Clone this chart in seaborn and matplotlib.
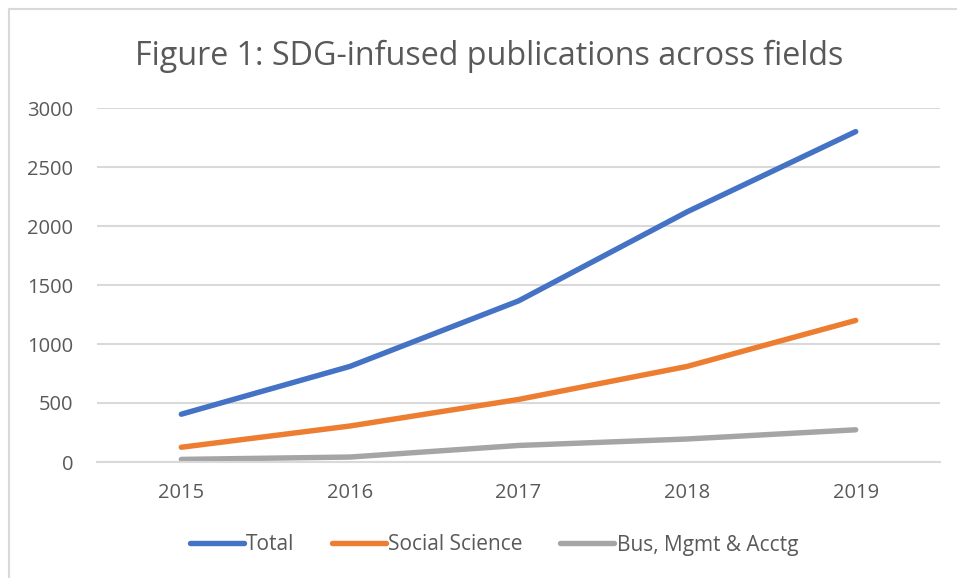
import numpy as np
import pandas as pd
import matplotlib
matplotlib.use('Agg')
import matplotlib.pyplot as plt
import seaborn as sns
from matplotlib.lines import Line2D

## data
years = ['2015', '2016', '2017', '2018', '2019']
total = [405, 810, 1365, 2120, 2800]
social_science = [125, 305, 530, 810, 1200]
bus_mgmt_acctg = [22, 42, 140, 195, 273]
series_names = ['Total', 'Social Science', 'Bus, Mgmt & Acctg']
colors = ['#4472c4', '#ed7d31', '#a5a5a5']

df = pd.DataFrame({'year': years * 3,
                   'count': total + social_science + bus_mgmt_acctg,
                   'field': [series_names[0]] * 5 + [series_names[1]] * 5 + [series_names[2]] * 5})

sns.set_style('white')
plt.rcParams['font.family'] = ['Open Sans', 'DejaVu Sans']
text_col = '#595959'

fig = plt.figure(figsize=(9.57, 5.78), dpi=100)
ax = fig.add_axes([97 / 957, 1 - 462 / 578, 843 / 957, 354 / 578])

sns.lineplot(data=df, x='year', y='count', hue='field', palette=colors,
             linewidth=3.9, solid_capstyle='round', ax=ax, legend=False, sort=False)

ax.set_ylim(0, 3000)
ax.set_xlim(-0.5, 4.5)
ax.set_yticks(range(0, 3001, 500))
ax.yaxis.grid(True, color='#d9d9d9', linewidth=1.5)
ax.set_axisbelow(True)
for s in ax.spines.values():
    s.set_visible(False)
ax.spines['bottom'].set_visible(True)
ax.spines['bottom'].set_color('#d9d9d9')
ax.spines['bottom'].set_linewidth(1.5)
ax.tick_params(axis='both', length=0, labelsize=14.5, labelcolor=text_col)
ax.tick_params(axis='y', pad=17)
ax.tick_params(axis='x', pad=15)
ax.set_xlabel('')
ax.set_ylabel('')

fig.text(489 / 957, 1 - 65 / 578, 'Figure 1: SDG-infused publications across fields',
         ha='center', va='baseline', fontsize=23.2, color=text_col)

handles = [Line2D([0], [0], color=c, lw=3.9, solid_capstyle='round') for c in colors]
fig.legend(handles, series_names, loc='center', bbox_to_anchor=(494 / 957, 1 - 545 / 578),
           ncol=3, frameon=False, fontsize=15, labelcolor=text_col, handlelength=2.6,
           handletextpad=0.1, columnspacing=1.8)

# chart frame (top and left edges visible)
fig.add_artist(Line2D([9 / 957, 9 / 957], [0, 1 - 9 / 578], color='#d9d9d9', lw=1.5))
fig.add_artist(Line2D([9 / 957, 1], [1 - 9 / 578, 1 - 9 / 578], color='#d9d9d9', lw=1.5))

plt.savefig('out.png', dpi=100)
